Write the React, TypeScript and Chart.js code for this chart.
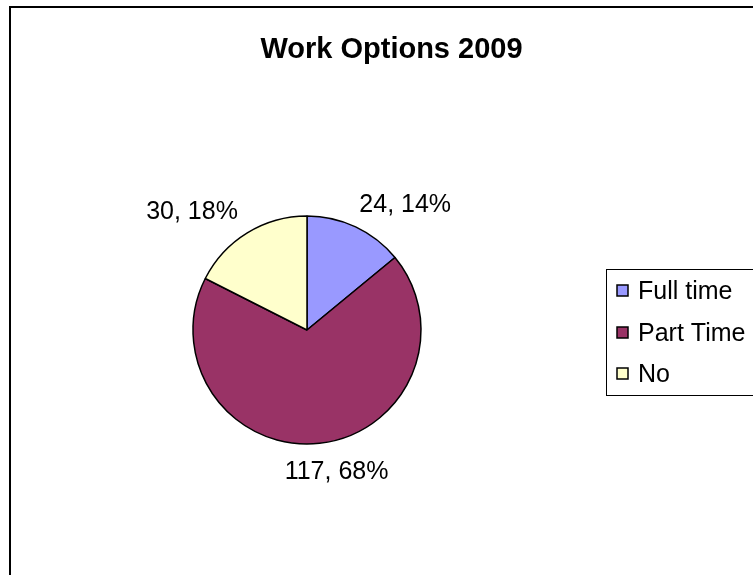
import React, { useEffect, useRef } from "react";
import { Chart, registerables } from "chart.js";

Chart.register(...registerables);

const categories = ["Full time", "Part Time", "No"];
const values = [24, 117, 30];
const percentLabels = ["14%", "68%", "18%"];
const colors = ["#9999FF", "#993366", "#FFFFCC"];
const title = "Work Options 2009";

const FONT = "'Liberation Sans', Arial, sans-serif";

const overlayPlugin = {
  id: "excelOverlay",
  afterDraw(chart: any) {
    const ctx = chart.ctx as CanvasRenderingContext2D;
    ctx.save();
    // outer chart border
    ctx.strokeStyle = "#000";
    ctx.lineWidth = 2;
    ctx.strokeRect(10, 7, 900, 700);

    // title
    ctx.fillStyle = "#000";
    ctx.font = `bold 29px ${FONT}`;
    ctx.textAlign = "center";
    ctx.textBaseline = "alphabetic";
    ctx.fillText(title, 391.5, 58);

    // data labels (outside end)
    const meta = chart.getDatasetMeta(0);
    ctx.font = `25px ${FONT}`;
    const capH = 18;
    meta.data.forEach((arc: any, i: number) => {
      const { x, y, startAngle, endAngle, outerRadius } = arc.getProps(
        ["x", "y", "startAngle", "endAngle", "outerRadius"],
        true
      );
      const mid = (startAngle + endAngle) / 2;
      const dx = Math.cos(mid);
      const dy = Math.sin(mid);
      const r = outerRadius + 18;
      let ax = x + dx * r;
      let ay = y + dy * r;
      const text = `${values[i]}, ${percentLabels[i]}`;
      if (Math.abs(dx) < 0.3) {
        ctx.textAlign = "center";
        ax += 15;
      } else {
        ctx.textAlign = dx > 0 ? "left" : "right";
        ax += dx > 0 ? -4 : 0;
      }
      ctx.textBaseline = "alphabetic";
      const baseline = dy < 0 ? ay + 1 : ay + capH;
      ctx.fillText(text, ax, baseline);
    });

    // legend
    const lx = 606;
    const ly = 269;
    ctx.lineWidth = 1;
    ctx.strokeStyle = "#000";
    ctx.strokeRect(lx + 0.5, ly + 0.5, 300, 126);
    ctx.font = `25px ${FONT}`;
    ctx.textAlign = "left";
    ctx.textBaseline = "alphabetic";
    categories.forEach((c, i) => {
      const cy = ly + 21 + i * 41.5;
      const sy = Math.round(cy - 5);
      ctx.fillStyle = colors[i];
      ctx.fillRect(lx + 11, sy, 11, 11);
      ctx.strokeStyle = "#000";
      ctx.lineWidth = 1.5;
      ctx.strokeRect(lx + 11, sy, 11, 11);
      ctx.fillStyle = "#000";
      ctx.fillText(c, lx + 32, cy + 9);
    });
    ctx.restore();
  },
};

export default function App() {
  const ref = useRef<HTMLCanvasElement>(null);
  useEffect(() => {
    if (!ref.current) return;
    const chart = new Chart(ref.current, {
      type: "pie",
      data: {
        labels: categories,
        datasets: [
          {
            data: values,
            backgroundColor: colors,
            borderColor: "#000",
            borderWidth: 1.5,
          },
        ],
      },
      options: {
        responsive: false,
        animation: false,
        devicePixelRatio: 1,
        radius: 114,
        layout: { padding: { left: 40, right: 179, top: 100, bottom: 15 } },
        plugins: {
          legend: { display: false },
          tooltip: { enabled: false },
          title: { display: false },
        },
      } as any,
      plugins: [overlayPlugin],
    });
    return () => chart.destroy();
  }, []);
  return (
    <div style={{ position: "absolute", left: 0, top: 0, width: 753, height: 575, background: "#fff" }}>
      <canvas ref={ref} width={753} height={575} style={{ display: "block" }} />
    </div>
  );
}
